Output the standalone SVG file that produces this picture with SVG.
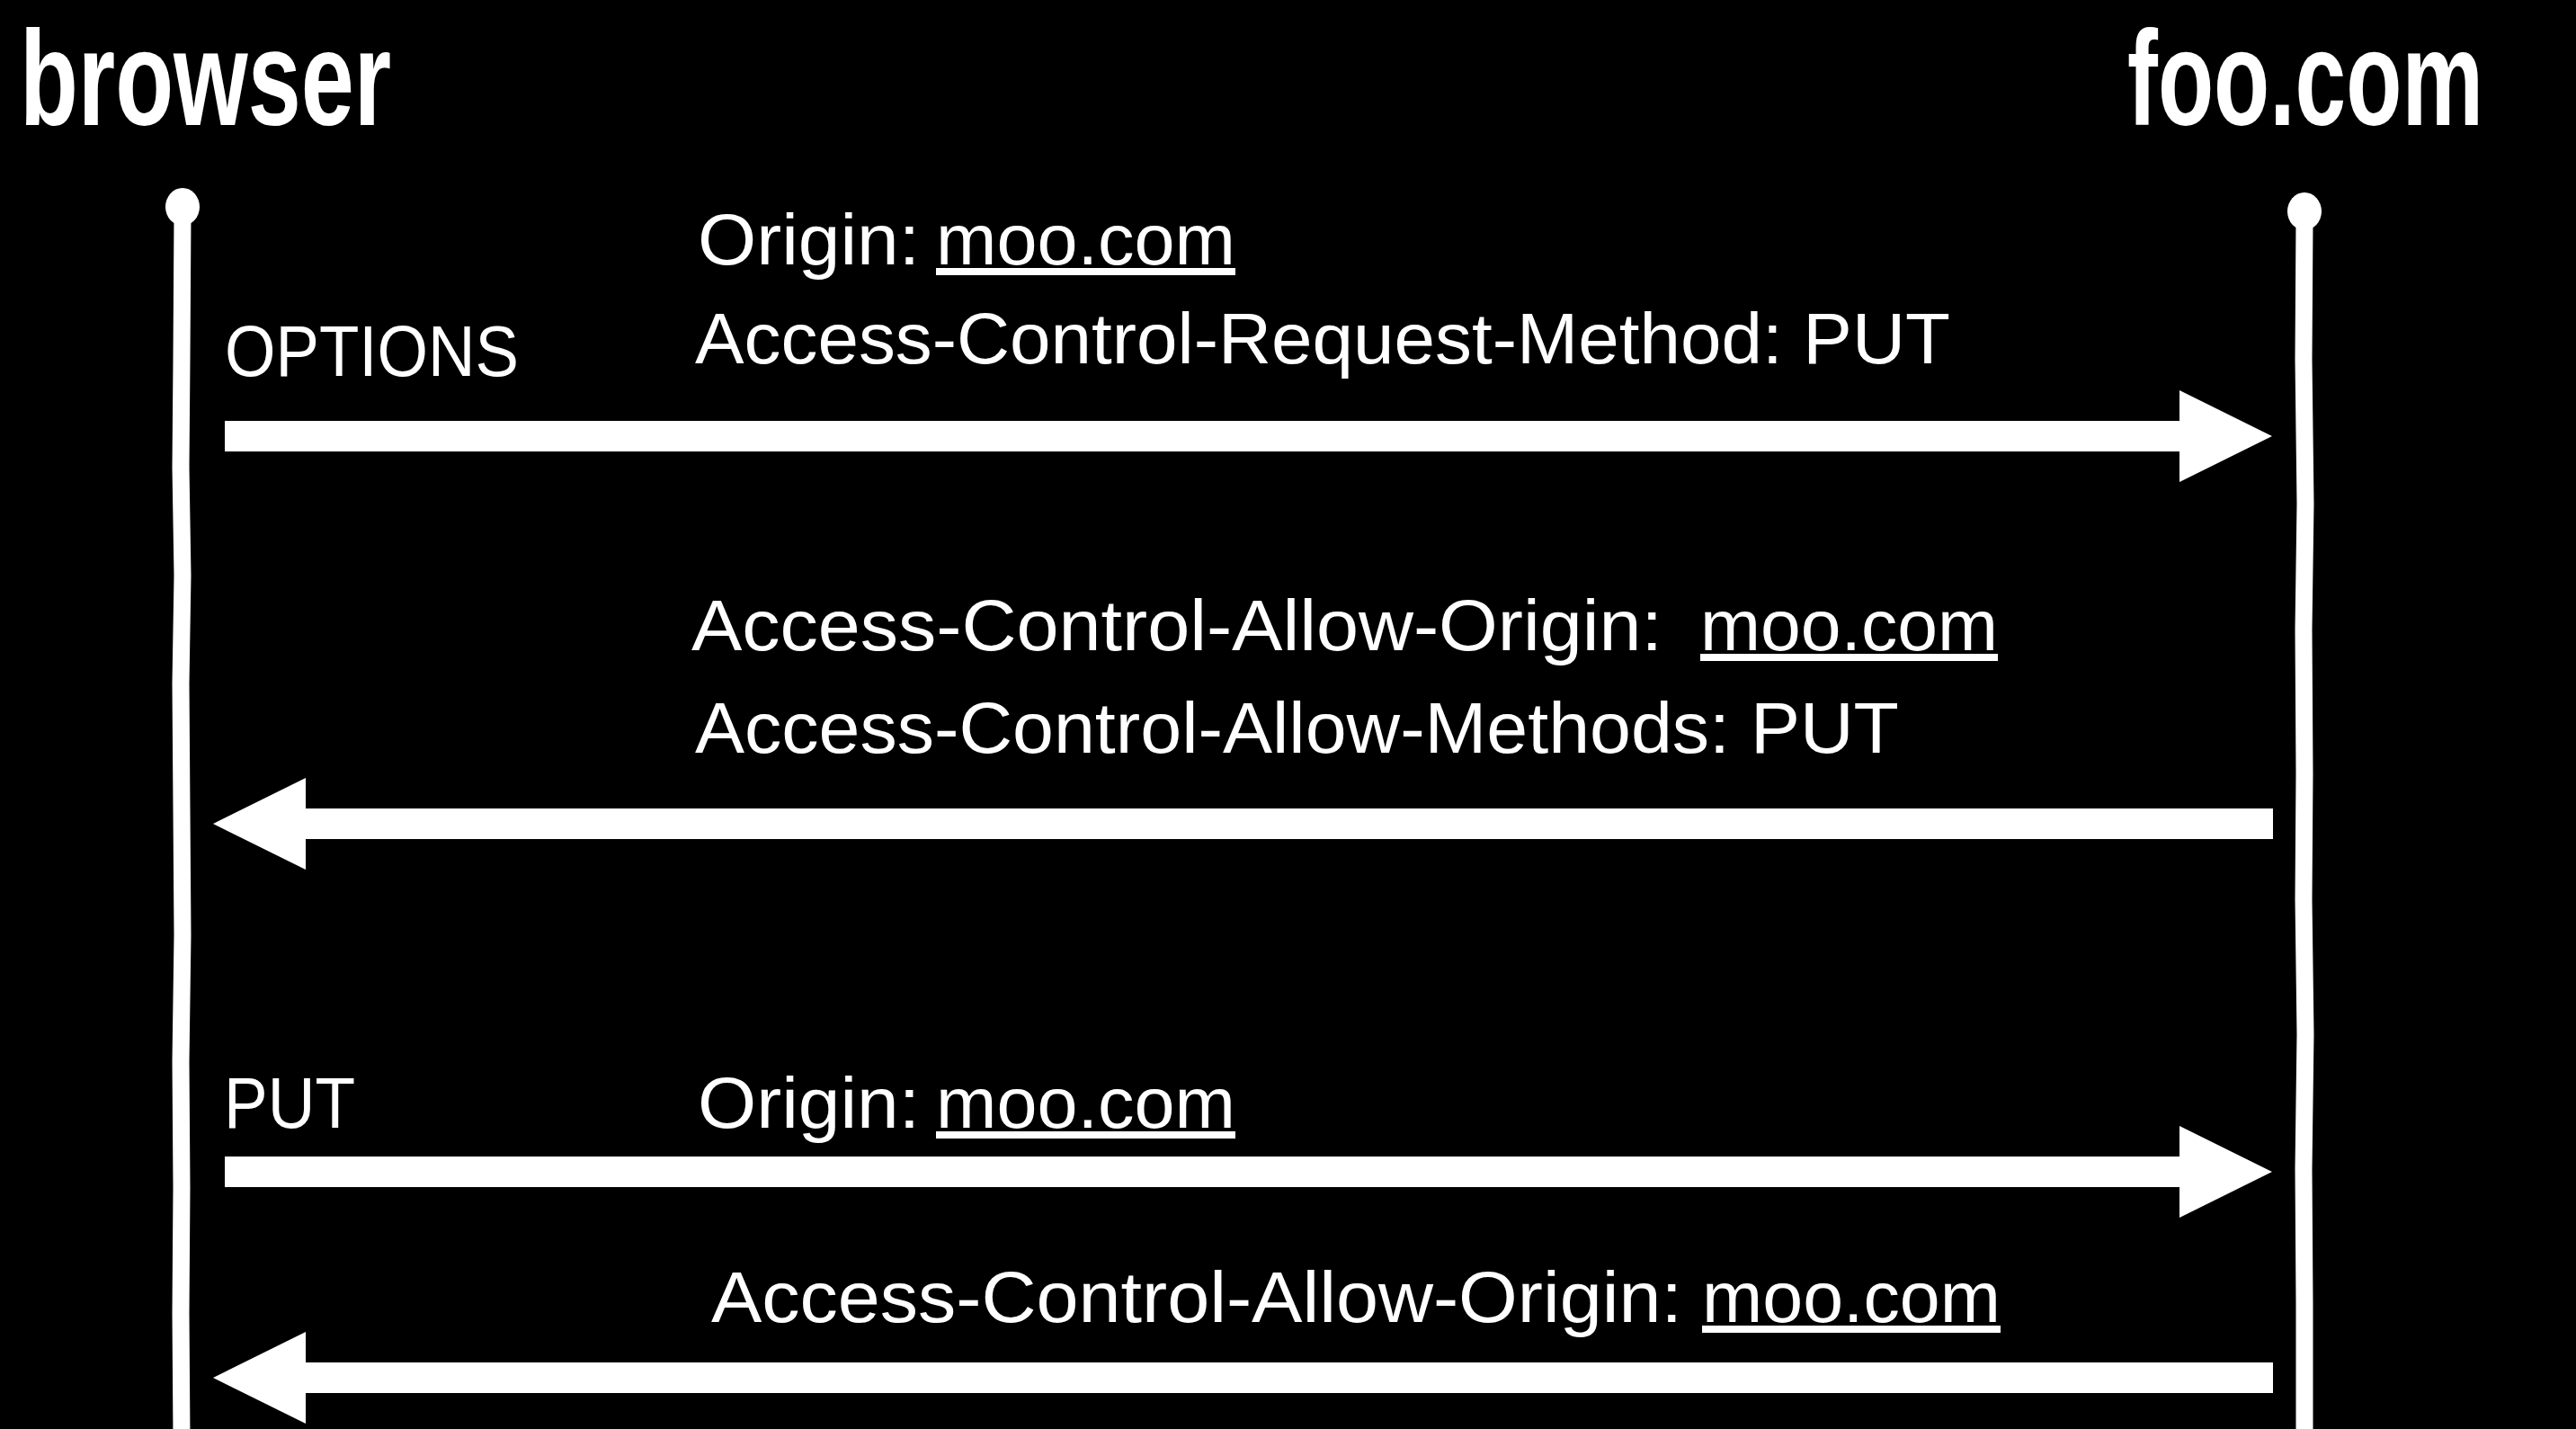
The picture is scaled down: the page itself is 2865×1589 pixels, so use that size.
<svg xmlns="http://www.w3.org/2000/svg" width="2865" height="1589" viewBox="0 0 2865 1589">
<style>
.bg{fill:#000}
.title{font-family:"Liberation Sans","DejaVu Sans",sans-serif;font-weight:bold;font-size:150px;fill:#fff}
.lbl{font-family:"Liberation Sans","DejaVu Sans",sans-serif;font-size:80px;fill:#fff}
.u{text-decoration:underline}
.life{fill:none;stroke:#fff;stroke-width:19;stroke-linecap:round}
.knob{fill:#fff}
.arrow{fill:#fff}
</style>
<rect class="bg" x="0" y="0" width="2865" height="1589"/>
<g id="browser">
<text class="title" transform="translate(22,139) scale(0.708,1)" x="0" y="0">browser</text>
<ellipse class="knob" cx="203" cy="230" rx="19" ry="21"/>
<path class="life" d="M203 240 L202 400 L201 520 L203 640 L201 760 L202 900 L203 1040 L201 1180 L202 1320 L201 1460 L202 1600"/>
</g>
<g id="foo">
<text class="title" transform="translate(2366,139) scale(0.679,1)" x="0" y="0">foo.com</text>
<ellipse class="knob" cx="2563" cy="235" rx="19" ry="21"/>
<path class="life" d="M2563 245 L2562 400 L2564 560 L2562 700 L2563 860 L2562 1000 L2564 1150 L2562 1300 L2563 1450 L2563 1600"/>
</g>
<g id="connectors">
<polygon class="arrow" points="250,468 2424,468 2424,434 2527,485 2424,536 2424,502 250,502"/>
<polygon class="arrow" points="2528,899 340,899 340,865 237,916 340,967 340,933 2528,933"/>
<polygon class="arrow" points="250,1286 2424,1286 2424,1252 2527,1303 2424,1354 2424,1320 250,1320"/>
<polygon class="arrow" points="2528,1515 340,1515 340,1481 237,1532 340,1583 340,1549 2528,1549"/>
</g>
<g id="labels">
<text class="lbl" x="776" y="294" textLength="247" lengthAdjust="spacingAndGlyphs">Origin:</text>
<text class="lbl u" x="1041" y="294" textLength="333" lengthAdjust="spacingAndGlyphs">moo.com</text>
<text class="lbl" x="250" y="418" textLength="327" lengthAdjust="spacingAndGlyphs">OPTIONS</text>
<text class="lbl" x="773" y="404" textLength="1396" lengthAdjust="spacingAndGlyphs">Access-Control-Request-Method: PUT</text>
<text class="lbl" x="769" y="723" textLength="1080" lengthAdjust="spacingAndGlyphs">Access-Control-Allow-Origin:</text>
<text class="lbl u" x="1891" y="723" textLength="331" lengthAdjust="spacingAndGlyphs">moo.com</text>
<text class="lbl" x="773" y="837" textLength="1339" lengthAdjust="spacingAndGlyphs">Access-Control-Allow-Methods: PUT</text>
<text class="lbl" x="249" y="1254" textLength="146" lengthAdjust="spacingAndGlyphs">PUT</text>
<text class="lbl" x="776" y="1254" textLength="247" lengthAdjust="spacingAndGlyphs">Origin:</text>
<text class="lbl u" x="1041" y="1254" textLength="333" lengthAdjust="spacingAndGlyphs">moo.com</text>
<text class="lbl" x="791" y="1470" textLength="1080" lengthAdjust="spacingAndGlyphs">Access-Control-Allow-Origin:</text>
<text class="lbl u" x="1893" y="1470" textLength="332" lengthAdjust="spacingAndGlyphs">moo.com</text>
</g>
</svg>
